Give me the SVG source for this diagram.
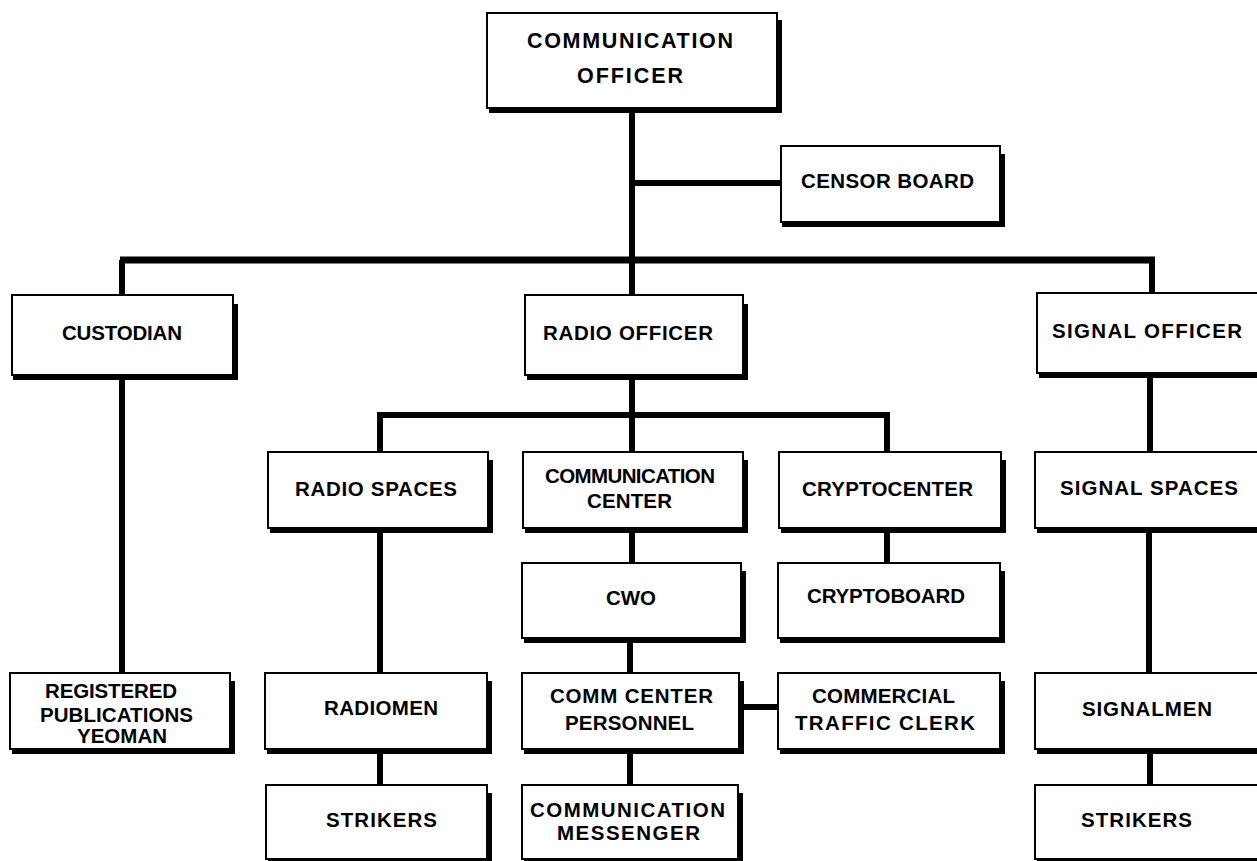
<svg xmlns="http://www.w3.org/2000/svg" width="1257" height="861" viewBox="0 0 1257 861">
<style>
.b{fill:#fff;stroke:#000;stroke-width:2}
.s{fill:none;stroke:#000;stroke-width:5;stroke-linejoin:miter}
.c{fill:none;stroke:#000;stroke-width:6}
text{font-family:"Liberation Sans",Arial,sans-serif;font-weight:bold;font-size:20.5px;fill:#000}
.big{font-size:21.5px}
</style>
<rect width="1257" height="861" fill="#fff"/>
<g id="connectors">
<path class="c" d="M632 110V260M632 183H781"/>
<path class="c" style="stroke-width:7" d="M120 260H1155"/>
<path class="c" d="M122 260V295M632 260V295M1152 260V293"/>
<path class="c" d="M122 378V673"/>
<path class="c" d="M632 378V415M377 415H890M380 415V452M632 415V452M887 415V452"/>
<path class="c" d="M380 530V673M380 752V785"/>
<path class="c" d="M632 530V563M630 640V673M630 752V785M741 707H778"/>
<path class="c" d="M887 530V563"/>
<path class="c" d="M1150 377V452M1149 530V673M1150 752V785"/>
</g>
<g id="comm-officer"><rect class="b" x="487" y="13" width="290" height="95"/><path class="s" d="M489 110.5H779.5V20"/><text x="527" y="48" class="big" textLength="206" lengthAdjust="spacing">COMMUNICATION</text><text x="577" y="83" class="big" textLength="106" lengthAdjust="spacing">OFFICER</text></g>
<g id="censor-board"><rect class="b" x="781" y="146" width="219" height="76"/><path class="s" d="M782 224.5H1002.5V154"/><text x="801" y="188" textLength="173" lengthAdjust="spacing">CENSOR  BOARD</text></g>
<g id="custodian"><rect class="b" x="12" y="295" width="221" height="80"/><path class="s" d="M13 377.5H235.5V304"/><text x="62" y="340" textLength="120" lengthAdjust="spacing">CUSTODIAN</text></g>
<g id="radio-officer"><rect class="b" x="525" y="295" width="218" height="80"/><path class="s" d="M527 377.5H745.5V304"/><text x="543" y="340" textLength="170" lengthAdjust="spacing">RADIO  OFFICER</text></g>
<g id="signal-officer"><rect class="b" x="1037" y="293" width="230" height="80"/><path class="s" d="M1039 375.5H1269.5"/><text x="1052" y="338" textLength="190" lengthAdjust="spacing">SIGNAL  OFFICER</text></g>
<g id="radio-spaces"><rect class="b" x="268" y="452" width="220" height="76"/><path class="s" d="M270 530.5H490.5V460"/><text x="295" y="496" textLength="162" lengthAdjust="spacing">RADIO  SPACES</text></g>
<g id="comm-center"><rect class="b" x="523" y="452" width="220" height="76"/><path class="s" d="M525 530.5H745.5V460"/><text x="545" y="483" textLength="170" lengthAdjust="spacing">COMMUNICATION</text><text x="587" y="508" textLength="85" lengthAdjust="spacing">CENTER</text></g>
<g id="cryptocenter"><rect class="b" x="779" y="452" width="222" height="76"/><path class="s" d="M781 530.5H1003.5V460"/><text x="802" y="496" textLength="171" lengthAdjust="spacing">CRYPTOCENTER</text></g>
<g id="signal-spaces"><rect class="b" x="1035" y="452" width="230" height="76"/><path class="s" d="M1037 530.5H1267.5"/><text x="1060" y="495" textLength="178" lengthAdjust="spacing">SIGNAL  SPACES</text></g>
<g id="cwo"><rect class="b" x="522" y="563" width="219" height="75"/><path class="s" d="M524 640.5H743.5V571"/><text x="606" y="605" textLength="50" lengthAdjust="spacing">CWO</text></g>
<g id="cryptoboard"><rect class="b" x="778" y="563" width="222" height="75"/><path class="s" d="M780 640.5H1002.5V571"/><text x="807" y="603" textLength="158" lengthAdjust="spacing">CRYPTOBOARD</text></g>
<g id="rp-yeoman"><rect class="b" x="10" y="673" width="220" height="76"/><path class="s" d="M12 751.5H232.5V681"/><text x="45" y="698" textLength="132" lengthAdjust="spacing">REGISTERED</text><text x="40" y="722" textLength="153" lengthAdjust="spacing">PUBLICATIONS</text><text x="77" y="743" textLength="90" lengthAdjust="spacing">YEOMAN</text></g>
<g id="radiomen"><rect class="b" x="265" y="673" width="222" height="76"/><path class="s" d="M267 751.5H489.5V681"/><text x="324" y="715" textLength="114" lengthAdjust="spacing">RADIOMEN</text></g>
<g id="comm-center-personnel"><rect class="b" x="522" y="673" width="217" height="76"/><path class="s" d="M524 751.5H741.5V681"/><text x="550" y="703" textLength="163" lengthAdjust="spacing">COMM CENTER</text><text x="565" y="730" textLength="129" lengthAdjust="spacing">PERSONNEL</text></g>
<g id="commercial-traffic-clerk"><rect class="b" x="778" y="673" width="222" height="76"/><path class="s" d="M780 751.5H1002.5V681"/><text x="812" y="703" textLength="143" lengthAdjust="spacing">COMMERCIAL</text><text x="795" y="730" textLength="180" lengthAdjust="spacing">TRAFFIC  CLERK</text></g>
<g id="signalmen"><rect class="b" x="1035" y="673" width="230" height="76"/><path class="s" d="M1037 751.5H1267.5"/><text x="1082" y="716" textLength="130" lengthAdjust="spacing">SIGNALMEN</text></g>
<g id="strikers-radio"><rect class="b" x="266" y="785" width="221" height="74"/><path class="s" d="M268 861.5H489.5V793"/><text x="326" y="827" textLength="111" lengthAdjust="spacing">STRIKERS</text></g>
<g id="comm-messenger"><rect class="b" x="522" y="785" width="216" height="74"/><path class="s" d="M524 861.5H740.5V793"/><text x="530" y="817" textLength="195" lengthAdjust="spacing">COMMUNICATION</text><text x="557" y="840" textLength="143" lengthAdjust="spacing">MESSENGER</text></g>
<g id="strikers-signal"><rect class="b" x="1035" y="785" width="230" height="74"/><path class="s" d="M1037 861.5H1267.5"/><text x="1081" y="827" textLength="111" lengthAdjust="spacing">STRIKERS</text></g>
</svg>
